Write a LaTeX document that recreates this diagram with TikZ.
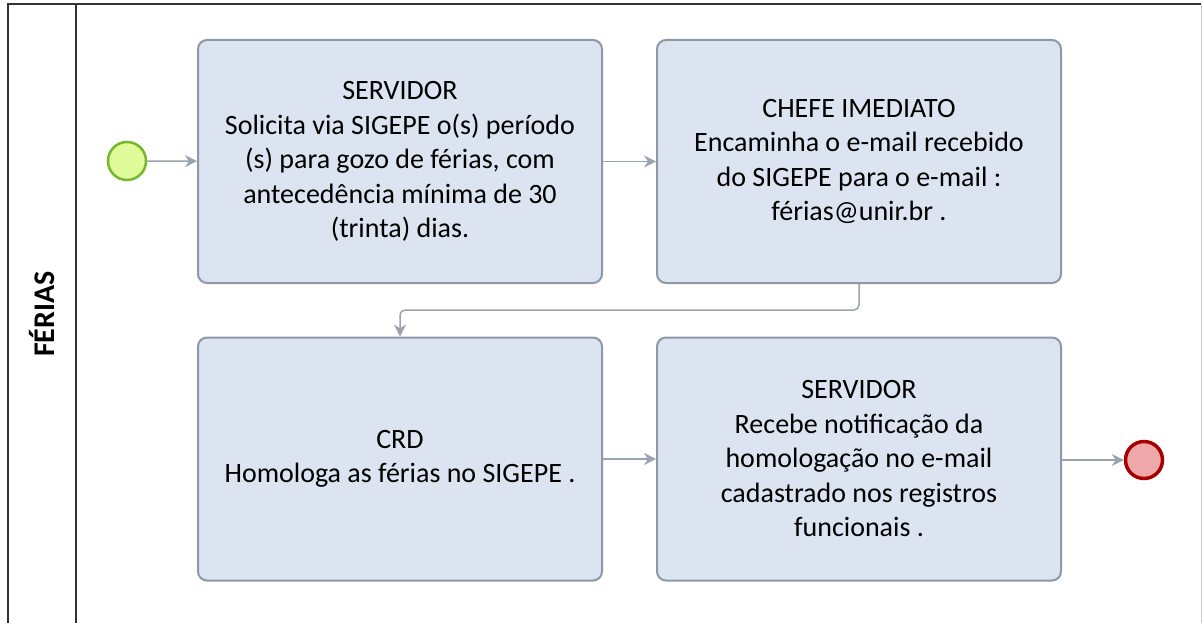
\documentclass[tikz,border=0pt]{standalone}
\usepackage{fontspec}
\setmainfont{Carlito}
\usetikzlibrary{arrows.meta}
\definecolor{boxfill}{HTML}{DBE4F0}
\definecolor{boxline}{HTML}{8D99A6}
\definecolor{conn}{HTML}{9AA4AE}
\definecolor{startfill}{HTML}{E0FC9A}
\definecolor{startline}{HTML}{76B82A}
\definecolor{endfill}{HTML}{EFA8AA}
\definecolor{endline}{HTML}{A80000}
\definecolor{frameline}{HTML}{333333}
\tikzset{
  taskbox/.style={draw=boxline, line width=2pt, fill=boxfill, rounded corners=9pt,
    minimum width=404pt, minimum height=243pt, align=center, inner sep=0pt,
    font=\fontsize{28}{34.5}\selectfont, text=black},
  startev/.style={circle, draw=startline, fill=startfill, line width=2.5pt, minimum size=38pt, inner sep=0pt},
  endev/.style={circle, draw=endline, fill=endfill, line width=3.5pt, minimum size=37pt, inner sep=0pt},
  flow/.style={draw=conn, line width=1.5pt, -{Stealth[length=12pt,width=12pt,inset=4pt]}},
  lane/.style={draw=frameline, line width=2pt}
}
\begin{document}
\begin{tikzpicture}[x=1pt,y=-1pt]
\useasboundingbox (0,0) rectangle (1202,623);
\fill[white] (0,0) rectangle (1202,623);
% frame
\draw[lane] (8,623) -- (8,4) -- (1201,4);
\draw[draw=gray!40, line width=1pt] (1201,4) -- (1201,623);
\draw[lane] (76,4) -- (76,623);
\node[rotate=90, font=\fontsize{30}{34}\selectfont\bfseries] (lanelabel) at (42,314) {FÉRIAS};
% nodes
\node[startev] (start) at (127,161) {};
\node[taskbox] (t1) at (400,161.5) {SERVIDOR\\Solicita via SIGEPE o(s) período\\(s) para gozo de férias, com\\antecedência mínima de 30\\(trinta) dias.};
\node[taskbox] (t2) at (859,161.5) {CHEFE IMEDIATO\\Encaminha o e-mail recebido\\do SIGEPE para o e-mail :\\férias@unir.br .};
\node[taskbox] (t3) at (400,459) {CRD\\Homologa as férias no SIGEPE .};
\node[taskbox] (t4) at (859,459) {SERVIDOR\\Recebe notificação da\\homologação no e-mail\\cadastrado nos registros\\funcionais .};
\node[endev] (end) at (1144,460) {};
% connectors
\draw[flow] (start) -- (t1);
\draw[flow] (t1) -- (t2);
\draw[flow, rounded corners=5pt] (t2.south) -- (859,310) -- (400,310) -- (t3.north);
\draw[flow] (t3) -- (t4);
\draw[flow] (t4.east |- end) -- (end);
\end{tikzpicture}
\end{document}
